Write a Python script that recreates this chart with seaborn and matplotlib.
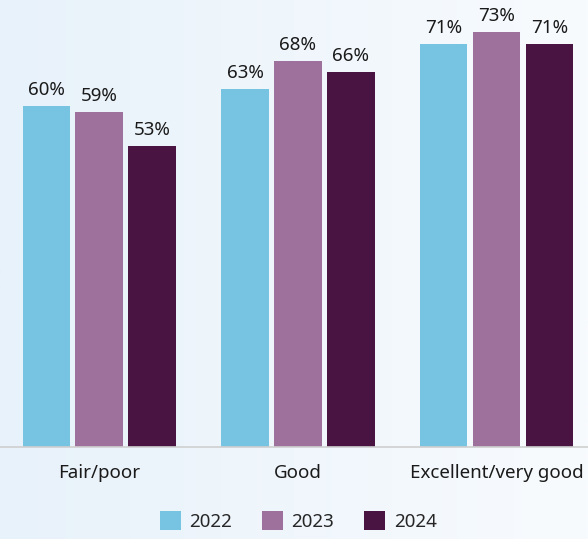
import numpy as np
import pandas as pd
import seaborn as sns
import matplotlib.pyplot as plt
from matplotlib.colors import LinearSegmentedColormap
from matplotlib.patches import Patch

# data
categories = ["Fair/poor", "Good", "Excellent/very good"]
years = ["2022", "2023", "2024"]
values_2022 = [60, 63, 71]
values_2023 = [59, 68, 73]
values_2024 = [53, 66, 71]
colors = ["#77C3E2", "#9E719C", "#4A1442"]

df = pd.DataFrame({
    "category": categories * 3,
    "year": [y for y in years for _ in categories],
    "value": values_2022 + values_2023 + values_2024,
})

sns.set_style("white")
plt.rcParams["font.family"] = ["Noto Sans", "DejaVu Sans"]
fs = 13.5

fig = plt.figure(figsize=(5.88, 5.39), dpi=100)

# soft blue-to-white background gradient
bg = fig.add_axes([0, 0, 1, 1], zorder=-10)
cmap = LinearSegmentedColormap.from_list("bg", ["#E8F2FA", "#F8FBFE"])
bg.imshow(np.linspace(0, 1, 256).reshape(1, -1), aspect="auto", cmap=cmap,
          extent=[0, 1, 0, 1])
bg.axis("off")

ax = fig.add_axes([0, (539 - 447) / 539, 1, 447 / 539])
ax.patch.set_alpha(0)

sns.barplot(data=df, x="category", y="value", hue="year", order=categories,
            hue_order=years, palette=colors, gap=0.1, width=0.8,
            saturation=1, legend=False, linewidth=0, ax=ax)

for cont in ax.containers:
    ax.bar_label(cont, labels=[f"{v:.0f}%" for v in cont.datavalues],
                 padding=5, fontsize=fs, color="#1a1a1a")

ax.set_xlim(-0.5, 2.46)
ax.set_ylim(0, 78.7)
ax.set_xlabel("")
ax.set_ylabel("")
ax.set_yticks([])
ax.tick_params(axis="x", length=0, pad=12, labelsize=fs, labelcolor="#1a1a1a")
for s in ["top", "left", "right"]:
    ax.spines[s].set_visible(False)
ax.spines["bottom"].set_color("#CFCFCF")
ax.spines["bottom"].set_linewidth(1.2)

handles = [Patch(facecolor=c, edgecolor="none") for c in colors]
fig.legend(handles, years, loc="center", bbox_to_anchor=(0.507, 1 - 521 / 539),
           ncol=3, frameon=False, fontsize=fs, handlelength=1.12,
           handleheight=1.12, handletextpad=0.45, columnspacing=1.6)

fig.savefig("out.png", dpi=100)
